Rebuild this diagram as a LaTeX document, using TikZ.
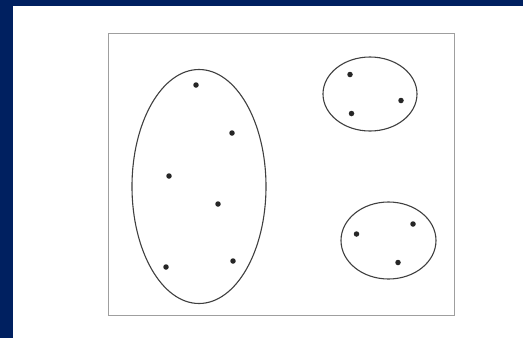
\documentclass[tikz,border=0pt]{standalone}
\definecolor{navy}{HTML}{002060}
\begin{document}
\begin{tikzpicture}[x=1pt, y=-1pt,
    dot/.style={circle, fill=black!85, inner sep=0pt, minimum size=5.5pt},
    cluster/.style={draw=black!75, line width=1.1pt}]
                % Frame
                \fill[navy] (0,0) rectangle (523,338);
                \fill[white] (12.5,6) rectangle (523,338);
                \useasboundingbox (0,0) rectangle (523,338);
                \draw[gray!75, line width=0.9pt] (108.5,33.5) rectangle (454,315);

                % Clusters
                \draw[cluster] (199,186.5) ellipse (67 and 117);
                \draw[cluster] (370,94) ellipse (47 and 37);
                \draw[cluster] (388.5,240.5) ellipse (47.5 and 38.5);

                % Points
                \foreach \name/\px/\py in {a1/196/85, a2/232/133, a3/169/176, a4/218/204, a5/166/267, a6/233/261,
                        b1/350/74.5, b2/401/100.5, b3/351.5/113.5,
                        c1/356.5/234, c2/413/224, c3/398/262.5} {
                        \node[dot] (\name) at (\px,\py) {};
                    }
            \end{tikzpicture}
\end{document}
